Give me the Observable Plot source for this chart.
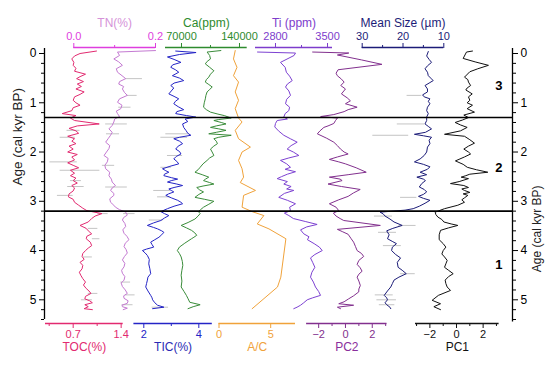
<!DOCTYPE html>
<html><head><meta charset="utf-8">
<script src="https://cdn.jsdelivr.net/npm/d3@7"></script>
<script src="https://cdn.jsdelivr.net/npm/@observablehq/plot@0.6"></script>
<style>
body{margin:0;background:#fff}
#chart{position:relative;width:554px;height:370px;overflow:hidden;background:#fff}
#chart svg{position:absolute;left:0;top:0}
</style></head><body><div id="chart"></div>
<script>
// ---- data: [age (cal kyr BP), value] ----
const TOC = [[-0.05,1.04],[0.0,0.80],[0.05,0.72],[0.11,0.68],[0.18,0.71],[0.24,0.70],[0.3,0.74],[0.36,0.72],[0.42,0.88],[0.47,0.80],[0.51,0.75],[0.57,0.85],[0.62,0.76],[0.67,0.82],[0.72,0.74],[0.78,0.86],[0.83,0.80],[0.88,0.72],[0.95,0.70],[1.0,0.74],[1.05,0.80],[1.1,0.70],[1.16,0.68],[1.22,0.54],[1.26,0.74],[1.31,0.66],[1.36,0.72],[1.43,1.08],[1.47,0.76],[1.52,0.64],[1.57,0.74],[1.62,0.78],[1.68,0.62],[1.73,0.72],[1.78,0.68],[1.83,0.74],[1.88,0.64],[1.94,0.70],[2.0,0.62],[2.05,0.76],[2.1,0.68],[2.16,0.72],[2.22,0.62],[2.27,0.70],[2.32,0.78],[2.37,0.66],[2.43,0.72],[2.48,0.66],[2.53,0.74],[2.58,0.70],[2.63,0.76],[2.68,0.68],[2.73,0.72],[2.79,0.70],[2.85,0.64],[2.91,0.63],[2.96,0.70],[3.02,0.72],[3.08,0.78],[3.14,0.84],[3.19,0.90],[3.25,1.12],[3.3,1.02],[3.35,0.97],[3.42,0.92],[3.49,0.80],[3.55,0.89],[3.6,0.92],[3.66,0.97],[3.71,0.90],[3.76,0.89],[3.83,0.95],[3.9,0.97],[3.95,0.92],[4.0,0.88],[4.06,0.84],[4.12,0.83],[4.18,0.86],[4.24,0.80],[4.3,0.84],[4.37,0.83],[4.44,0.79],[4.5,0.81],[4.57,0.84],[4.64,0.88],[4.7,0.85],[4.77,0.89],[4.82,0.93],[4.87,0.96],[4.93,0.88],[4.98,0.87],[5.02,0.94],[5.06,0.98],[5.1,0.87],[5.14,0.92],[5.18,0.86],[5.2,0.98]];
const TN = [[-0.06,0.200],[-0.03,0.107],[0.04,0.112],[0.11,0.098],[0.17,0.110],[0.24,0.119],[0.31,0.104],[0.38,0.107],[0.45,0.118],[0.51,0.127],[0.57,0.112],[0.62,0.110],[0.67,0.122],[0.72,0.119],[0.79,0.124],[0.85,0.131],[0.92,0.112],[0.99,0.107],[1.05,0.118],[1.12,0.115],[1.17,0.104],[1.22,0.107],[1.28,0.112],[1.33,0.100],[1.39,0.098],[1.46,0.094],[1.53,0.086],[1.6,0.094],[1.66,0.090],[1.73,0.084],[1.80,0.078],[1.87,0.088],[1.93,0.086],[2.0,0.080],[2.07,0.074],[2.13,0.084],[2.2,0.082],[2.27,0.076],[2.34,0.078],[2.41,0.088],[2.48,0.086],[2.55,0.092],[2.61,0.094],[2.68,0.102],[2.73,0.094],[2.78,0.090],[2.84,0.098],[2.88,0.098],[2.95,0.088],[3.02,0.090],[3.08,0.098],[3.12,0.102],[3.17,0.112],[3.22,0.127],[3.28,0.131],[3.33,0.122],[3.38,0.119],[3.45,0.125],[3.51,0.127],[3.58,0.120],[3.65,0.123],[3.71,0.130],[3.78,0.135],[3.85,0.126],[3.92,0.123],[3.98,0.128],[4.05,0.131],[4.12,0.124],[4.19,0.119],[4.26,0.125],[4.33,0.123],[4.4,0.117],[4.46,0.119],[4.53,0.125],[4.6,0.123],[4.66,0.116],[4.73,0.119],[4.8,0.126],[4.87,0.131],[4.92,0.122],[4.97,0.123],[5.02,0.133],[5.07,0.131],[5.11,0.118],[5.14,0.119],[5.17,0.131],[5.2,0.121]];
const TIC = [[-0.05,3.16],[-0.02,3.90],[0.02,3.30],[0.07,2.86],[0.12,3.10],[0.18,3.35],[0.23,3.05],[0.28,2.98],[0.33,3.15],[0.38,3.27],[0.45,3.04],[0.5,3.30],[0.55,3.45],[0.6,3.10],[0.65,2.98],[0.7,3.09],[0.76,3.00],[0.82,2.91],[0.87,3.10],[0.92,3.27],[0.97,3.15],[1.02,3.09],[1.08,3.25],[1.14,3.45],[1.18,3.20],[1.22,3.16],[1.26,3.55],[1.29,3.89],[1.33,3.50],[1.38,3.60],[1.43,3.41],[1.5,3.45],[1.56,3.53],[1.62,3.60],[1.66,3.71],[1.7,3.30],[1.73,3.09],[1.78,3.30],[1.83,3.41],[1.88,3.25],[1.94,3.16],[1.99,3.30],[2.04,3.35],[2.09,3.18],[2.14,3.09],[2.19,3.20],[2.24,3.27],[2.29,2.95],[2.34,2.68],[2.38,2.80],[2.41,2.91],[2.45,2.75],[2.48,2.73],[2.52,3.00],[2.55,3.23],[2.58,3.00],[2.61,2.86],[2.65,3.20],[2.68,3.41],[2.72,3.10],[2.75,2.91],[2.78,3.00],[2.81,3.09],[2.85,2.90],[2.88,2.80],[2.93,3.00],[2.98,3.23],[3.02,3.35],[3.05,3.41],[3.1,3.10],[3.15,2.86],[3.21,2.62],[3.25,2.75],[3.29,2.91],[3.34,2.75],[3.39,2.62],[3.44,2.35],[3.49,2.13],[3.53,2.35],[3.56,2.50],[3.6,2.65],[3.63,2.73],[3.68,2.65],[3.73,2.55],[3.78,2.40],[3.83,2.25],[3.88,2.30],[3.93,2.36],[3.97,2.10],[4.0,1.95],[4.05,2.05],[4.1,2.13],[4.18,2.20],[4.27,2.18],[4.37,2.22],[4.47,2.25],[4.54,2.15],[4.6,2.13],[4.67,2.10],[4.74,2.07],[4.82,2.15],[4.91,2.25],[4.96,2.30],[5.0,2.32],[5.06,2.40],[5.11,2.50],[5.15,2.73],[5.18,2.32]];
const CA = [[-0.06,117500],[-0.03,100900],[0.04,104000],[0.11,105000],[0.16,101000],[0.21,98750],[0.28,104000],[0.35,109100],[0.42,105000],[0.48,102900],[0.53,100000],[0.58,98750],[0.63,103000],[0.68,107100],[0.73,104000],[0.78,100900],[0.85,99500],[0.92,98750],[1.0,97500],[1.09,96600],[1.14,100000],[1.19,105000],[1.23,114000],[1.26,121600],[1.31,130000],[1.34,115000],[1.36,109100],[1.4,118000],[1.43,123750],[1.47,112000],[1.5,105000],[1.53,115000],[1.56,123750],[1.6,112000],[1.63,102900],[1.66,130000],[1.7,115000],[1.73,109100],[1.78,112000],[1.83,113400],[1.88,109000],[1.94,105000],[2.0,107000],[2.07,109100],[2.12,104000],[2.17,100900],[2.24,96000],[2.31,92500],[2.36,90000],[2.41,86250],[2.46,95000],[2.51,102900],[2.55,99000],[2.58,96600],[2.62,104000],[2.65,109100],[2.69,96000],[2.72,88400],[2.77,92000],[2.81,96600],[2.86,91000],[2.92,86250],[2.96,98000],[3.0,109100],[3.06,103000],[3.12,96600],[3.17,93000],[3.21,90400],[3.25,92500],[3.3,90000],[3.36,86250],[3.43,78000],[3.49,69600],[3.54,76000],[3.59,82100],[3.64,86000],[3.69,88400],[3.73,85000],[3.76,82100],[3.85,74000],[3.93,67500],[4.0,65000],[4.06,67500],[4.13,69600],[4.22,71000],[4.3,71600],[4.4,70500],[4.5,69600],[4.62,70500],[4.74,69600],[4.83,73000],[4.91,75900],[4.98,78000],[5.05,80000],[5.1,92500],[5.14,84100],[5.18,77900]];
const AC = [[-0.06,1.57],[0.11,1.40],[0.28,1.74],[0.45,1.40],[0.58,1.89],[0.78,1.57],[0.95,1.89],[1.12,1.57],[1.31,1.89],[1.39,2.23],[1.56,1.57],[1.73,1.89],[1.9,3.04],[2.0,2.23],[2.17,1.89],[2.34,2.23],[2.51,2.38],[2.62,2.06],[2.78,3.53],[2.88,2.38],[3.12,2.23],[3.21,3.21],[3.29,4.34],[3.46,3.70],[3.56,4.83],[3.76,6.47],[4.54,5.98],[4.74,5.66],[5.18,3.21]];
const TI = [[-0.03,2558],[-0.01,3069],[0.04,3050],[0.18,2867],[0.28,2930],[0.38,2946],[0.46,2990],[0.55,3025],[0.62,2960],[0.68,2935],[0.76,2980],[0.85,3002],[0.93,2950],[1.02,2935],[1.09,2990],[1.16,2979],[1.22,2930],[1.29,2912],[1.33,2960],[1.36,2823],[1.42,2800],[1.49,2790],[1.57,2840],[1.66,2912],[1.73,3000],[1.8,3092],[1.87,3010],[1.94,2957],[2.0,3040],[2.07,3114],[2.12,2980],[2.17,2867],[2.24,2950],[2.31,3002],[2.35,2930],[2.4,3069],[2.45,2960],[2.5,2880],[2.54,2823],[2.6,2960],[2.65,2912],[2.7,3010],[2.75,2950],[2.78,3046],[2.84,2920],[2.92,2844],[2.98,2960],[3.05,3069],[3.12,2990],[3.19,3002],[3.24,2920],[3.29,2980],[3.35,3040],[3.41,3200],[3.47,3360],[3.52,3220],[3.58,3137],[3.66,3180],[3.72,3250],[3.78,3230],[3.86,3320],[3.93,3390],[4.0,3429],[4.08,3330],[4.15,3271],[4.24,3300],[4.34,3330],[4.44,3290],[4.54,3271],[4.64,3310],[4.74,3338],[4.83,3380],[4.91,3406],[4.96,3300],[5.0,3227],[5.06,3180],[5.11,3137],[5.15,3090],[5.18,3046]];
const PC2 = [[-0.03,-2.45],[-0.01,0.25],[0.03,-0.6],[0.13,1.2],[0.22,2.72],[0.33,-0.55],[0.4,-0.7],[0.45,-0.61],[0.52,-0.3],[0.58,-0.1],[0.65,-0.35],[0.72,0.0],[0.82,-0.3],[0.9,0.13],[0.96,0.37],[1.02,0.0],[1.09,0.87],[1.14,0.2],[1.18,-0.1],[1.24,-0.87],[1.28,-1.85],[1.31,-0.6],[1.36,-0.74],[1.42,-0.87],[1.47,-1.3],[1.5,-1.61],[1.57,-1.9],[1.63,-2.10],[1.72,-1.4],[1.8,-0.87],[1.87,-0.6],[1.94,-0.37],[2.0,-0.1],[2.04,0.2],[2.1,-0.6],[2.15,-1.2],[2.2,-0.5],[2.24,0.0],[2.32,0.8],[2.41,1.55],[2.46,0.2],[2.51,-1.2],[2.55,-0.4],[2.58,-0.25],[2.65,-1.3],[2.7,-0.3],[2.76,1.1],[2.83,0.6],[2.9,0.2],[2.97,-0.5],[3.05,-1.2],[3.12,-0.7],[3.19,-0.5],[3.24,-0.9],[3.3,-0.7],[3.35,-0.4],[3.39,-0.13],[3.49,2.6],[3.57,-0.6],[3.62,-0.2],[3.67,0.2],[3.75,0.4],[3.83,0.61],[3.92,0.75],[4.0,0.87],[4.06,1.2],[4.12,1.36],[4.2,1.0],[4.28,0.87],[4.35,1.1],[4.42,1.24],[4.48,1.0],[4.54,0.87],[4.62,1.0],[4.71,1.11],[4.78,1.0],[4.84,0.99],[4.92,0.6],[4.98,0.24],[5.04,-0.1],[5.08,-0.5],[5.11,0.61],[5.15,-0.6],[5.18,-0.37]];
const MEAN_SIZE = [[-0.04,13.8],[0.05,14.2],[0.12,13.6],[0.18,13.0],[0.25,14.0],[0.31,14.6],[0.38,14.0],[0.45,13.8],[0.5,13.2],[0.55,12.6],[0.6,13.6],[0.65,14.6],[0.72,14.0],[0.78,14.0],[0.84,15.2],[0.88,14.8],[0.92,13.4],[0.97,13.8],[1.02,13.4],[1.09,14.0],[1.16,14.2],[1.22,13.8],[1.29,14.2],[1.36,14.2],[1.43,14.6],[1.48,13.8],[1.53,13.0],[1.6,14.5],[1.64,17.2],[1.67,15.0],[1.7,13.0],[1.76,13.6],[1.83,13.4],[1.9,14.0],[2.0,14.2],[2.07,14.8],[2.14,15.8],[2.2,17.2],[2.25,15.0],[2.3,13.4],[2.35,14.0],[2.41,15.8],[2.46,14.2],[2.51,16.6],[2.55,15.0],[2.58,14.5],[2.64,15.4],[2.71,16.0],[2.76,14.8],[2.81,14.2],[2.86,15.0],[2.9,16.2],[2.94,15.0],[2.98,13.4],[3.04,14.6],[3.1,16.0],[3.15,17.5],[3.18,19.5],[3.22,25.6],[3.26,24.8],[3.3,24.4],[3.36,23.2],[3.42,22.2],[3.49,20.2],[3.55,22.5],[3.6,24.0],[3.68,23.4],[3.76,23.8],[3.82,22.5],[3.86,21.6],[3.93,22.6],[4.0,22.8],[4.08,21.8],[4.15,20.6],[4.24,21.4],[4.34,21.2],[4.4,20.2],[4.47,19.2],[4.54,21.0],[4.6,22.2],[4.67,22.6],[4.74,23.0],[4.82,23.8],[4.91,24.6],[4.96,24.0],[5.0,23.8],[5.06,24.4],[5.1,24.0],[5.15,23.2],[5.18,23.0]];
const PC1 = [[-0.05,1.2],[-0.03,0.75],[0.1,0.5],[0.17,1.4],[0.24,2.4],[0.31,1.6],[0.37,1.0],[0.48,0.6],[0.53,0.85],[0.58,0.9],[0.65,1.06],[0.7,0.8],[0.74,0.7],[0.82,1.18],[0.88,0.9],[0.95,1.0],[1.0,0.8],[1.05,1.2],[1.12,0.8],[1.19,1.35],[1.25,0.55],[1.3,0.9],[1.35,0.45],[1.4,-0.1],[1.45,0.3],[1.5,0.8],[1.57,0.3],[1.64,-0.9],[1.68,0.6],[1.75,1.0],[1.82,1.35],[1.88,0.9],[1.94,0.55],[2.0,0.9],[2.04,1.06],[2.1,0.6],[2.18,-0.08],[2.25,0.5],[2.31,0.81],[2.36,1.5],[2.41,2.35],[2.45,1.0],[2.48,0.7],[2.51,0.35],[2.54,0.9],[2.6,0.2],[2.64,-0.45],[2.68,0.55],[2.72,0.9],[2.75,0.4],[2.78,0.6],[2.82,1.0],[2.85,0.5],[2.88,0.85],[2.93,0.6],[2.97,0.4],[3.02,0.6],[3.08,0.1],[3.15,-0.9],[3.22,-1.6],[3.27,-1.55],[3.32,-1.4],[3.37,-1.1],[3.42,-0.95],[3.46,-0.4],[3.49,0.1],[3.54,-0.6],[3.59,-1.2],[3.68,-1.3],[3.78,-1.3],[3.86,-1.0],[3.93,-0.8],[4.0,-1.0],[4.07,-1.1],[4.13,-0.9],[4.2,-0.7],[4.27,-0.8],[4.34,-0.9],[4.4,-0.6],[4.47,-0.25],[4.53,-0.6],[4.6,-0.85],[4.67,-0.8],[4.74,-0.7],[4.81,-0.45],[4.91,-1.36],[5.01,-1.83],[5.08,-1.2],[5.14,-1.7],[5.2,-1.2]];

// ---- error bars: [age, low, high] ----
const TOC_ERR = [[1.56,0.61,0.80],[1.7,0.51,0.73],[2.2,0.36,0.76],[2.37,0.51,1.09],[2.58,0.66,0.82],[2.7,0.62,0.86],[2.88,0.47,0.70],[3.25,1.06,1.21],[3.55,0.92,1.06],[3.76,0.98,1.09],[4.13,0.85,0.98],[4.87,0.92,1.06],[5.0,0.82,0.98]];
const TN_ERR = [[0.51,0.127,0.168],[0.85,0.131,0.155],[1.09,0.110,0.140],[1.43,0.078,0.131],[1.63,0.080,0.112],[2.27,0.070,0.100],[2.71,0.078,0.131],[3.25,0.122,0.150],[4.64,0.115,0.139],[4.9,0.127,0.150],[5.1,0.118,0.145]];
const TIC_ERR = [[1.63,2.8,3.64],[1.7,2.62,3.59],[2.07,2.86,3.41],[2.31,2.62,3.0],[2.78,2.36,2.98],[2.91,2.5,2.95],[3.38,2.2,2.7],[5.15,2.3,2.9]];
const MS_ERR = [[0.85,19.0,15.4],[1.43,21.4,14.6],[1.66,27.4,18.6],[2.92,20.6,16.6],[3.3,27.0,22.6],[3.49,21.0,16.8],[3.63,26.0,21.6],[3.9,24.8,20.4],[4.47,20.6,17.0],[4.9,26.8,22.4],[5.0,26.4,21.6],[5.1,25.8,22.0]];

// ---- age axis & zones ----
const AGE_TICKS = [0,1,2,3,4,5];
const AGE_MINOR = [0.2,0.4,0.6,0.8,1.2,1.4,1.6,1.8,2.2,2.4,2.6,2.8,3.2,3.4,3.6,3.8,4.2,4.4,4.6,4.8,5.2,5.4];
const ZONE_BOUNDS = [1.3, 3.2];
const ZONES = [{label:"3", age:0.65},{label:"2", age:2.33},{label:"1", age:4.3}];
const AGE_LABEL = "Age (cal kyr BP)";

// ---- layout ----
const W = 554, H = 370, MT = 47, MB = 47;
const AGE_DOMAIN = [-0.122, 5.481];
const FONT = "'Liberation Sans', Arial, Helvetica, sans-serif";
const svgStyle = {background:"transparent", overflow:"visible", fontFamily:FONT, fontSize:"11px"};

const panels = [
  {title:"TOC(%)", data:TOC, err:TOC_ERR, axis:"bottom", color:"#e22a70", axisColor:"#e22a70", titleColor:"#e22a70",
   domain:[0.296,1.43], range:[45,122.7], major:[0.7,1.4], minor:[0.35,1.05], fmt:d3.format(".1f")},
  {title:"TN(%)", data:TN, err:TN_ERR, axis:"top", color:"#c47ad2", axisColor:"#de3ede", titleColor:"#d592d8",
   domain:[0,0.2], range:[73.3,155], major:[0,0.2], minor:[0.1], fmt:d3.format(".1f")},
  {title:"TIC(%)", data:TIC, err:TIC_ERR, axis:"bottom", color:"#2424c6", axisColor:"#2424c6", titleColor:"#2a2ab4",
   domain:[1.64,4.49], range:[133.4,211.8], major:[2,4], minor:[3], fmt:d3.format("d")},
  {title:"Ca(ppm)", data:CA, axis:"top", color:"#3a8c3a", axisColor:"#2e8b2e", titleColor:"#2e8b2e",
   domain:[50700,149300], range:[165,246.7], major:[70000,140000], minor:[105000], fmt:d3.format("d")},
  {title:"A/C", data:AC, axis:"bottom", color:"#f0a23a", axisColor:"#f0a23a", titleColor:"#f0a23a",
   domain:[0,7.4], range:[218.5,295], major:[0,5], minor:[], fmt:d3.format("d")},
  {title:"Ti (ppm)", data:TI, axis:"top", color:"#7d42d2", axisColor:"#7d3ccc", titleColor:"#7d3ccc",
   domain:[2531,3567], range:[255,332], major:[2800,3500], minor:[3150], fmt:d3.format("d")},
  {title:"PC2", data:PC2, axis:"bottom", color:"#82308e", axisColor:"#82308e", titleColor:"#8a2e9c",
   domain:[-2.9,3.1], range:[306.1,386.5], major:[-2,0,2], minor:[-1,1,3], fmt:d3.format("d")},
  {title:"Mean Size (µm)", data:MEAN_SIZE, err:MS_ERR, axis:"top", color:"#1c1c78", axisColor:"#1c1c78", titleColor:"#1c1c78",
   domain:[30,10], range:[361.7,443.3], major:[30,20,10], minor:[25,15], fmt:d3.format("d")},
  {title:"PC1", data:PC1, axis:"bottom", color:"#111111", axisColor:"#111111", titleColor:"#111111",
   domain:[-3.08,3.2], range:[415,498.6], major:[-2,0,2], minor:[-3,-1,1,3], fmt:d3.format("d")}
];

const chart = document.getElementById("chart");

// base: age axes, zone boundaries and labels
const base = Plot.plot({
  width: W, height: H, marginTop: MT, marginBottom: MB, marginLeft: 44, marginRight: 42,
  style: svgStyle,
  x: {domain:[0,1], axis:null},
  y: {domain: AGE_DOMAIN, reverse: true, axis: null},
  marks: [
    Plot.ruleY(ZONE_BOUNDS, {stroke:"#000", strokeWidth:1.6}),
    Plot.ruleX([0], {y1:-0.1, y2:5.4, stroke:"#000", strokeWidth:1.3}),
    Plot.ruleX([1], {y1:-0.1, y2:5.45, stroke:"#000", strokeWidth:1.3}),
    Plot.axisY({ticks:AGE_TICKS, anchor:"left", tickSize:5, tickPadding:3, tickFormat:d3.format("d"), label:null, fontSize:12}),
    Plot.axisY({ticks:AGE_MINOR, anchor:"left", tickSize:3, stroke:"#000", fill:"none", label:null}),
    Plot.axisY({ticks:AGE_TICKS, anchor:"right", tickSize:5, tickPadding:3, tickFormat:d3.format("d"), label:null, fontSize:12}),
    Plot.axisY({ticks:AGE_MINOR, anchor:"right", tickSize:3, stroke:"#000", fill:"none", label:null}),
    Plot.text(ZONES, {y:"age", text:"label", frameAnchor:"right", dx:-10, fontWeight:"bold", fontSize:13, fill:"#000"}),
    Plot.text([AGE_LABEL], {text:d => d, frameAnchor:"left", dx:-27, rotate:-90, fontSize:13.5, fill:"#222"}),
    Plot.text([AGE_LABEL], {text:d => d, frameAnchor:"right", dx:25, rotate:-90, fontSize:12, fill:"#222"})
  ]
});

for (const p of panels) {
  const top = p.axis === "top";
  const edge = top ? AGE_DOMAIN[0] : AGE_DOMAIN[1];
  const mid = (p.domain[0] + p.domain[1]) / 2;
  const marks = [];
  if (p.err) marks.push(Plot.ruleY(p.err, {y:d => d[0], x1:d => d[1], x2:d => d[2], stroke:"#c4c4c4", strokeWidth:1}));
  marks.push(Plot.line(p.data, {x:d => d[1], y:d => d[0], stroke:p.color, strokeWidth:1}));
  marks.push(Plot.ruleY([edge], {x1:p.domain[0], x2:p.domain[1], stroke:p.axisColor, strokeWidth:1.6}));
  marks.push(Plot.axisX({ticks:p.major, anchor:p.axis, tickSize:5, tickPadding: top ? 3 : 2, tickFormat:p.fmt, color:p.axisColor, label:null}));
  if (p.minor.length) marks.push(Plot.axisX({ticks:p.minor, anchor:p.axis, tickSize:3, stroke:p.axisColor, fill:"none", label:null}));
  marks.push(Plot.text([p.title], {text:d => d, x:() => mid, frameAnchor:p.axis, dy: top ? -29 : 27, fill:p.titleColor, fontSize:12}));
  const svg = Plot.plot({
    width: W, height: H, marginTop: MT, marginBottom: MB, marginLeft: 0, marginRight: 0,
    style: svgStyle,
    x: {domain: p.domain, range: p.range},
    y: {domain: AGE_DOMAIN, reverse: true, axis: null},
    marks
  });
  chart.appendChild(svg);
}
chart.appendChild(base);
</script></body></html>
